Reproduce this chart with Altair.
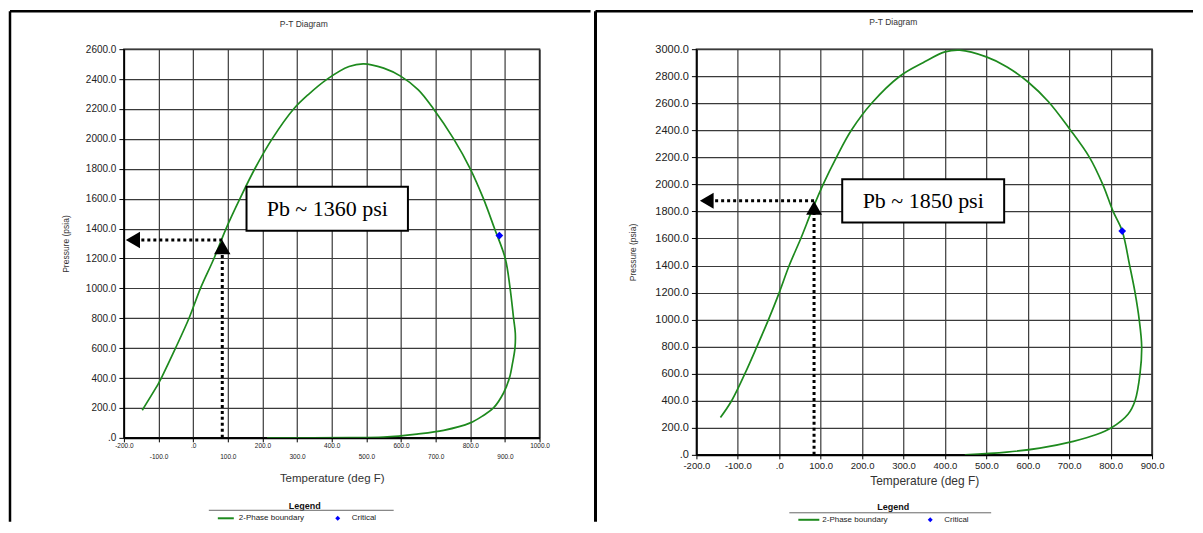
import altair as alt
import pandas as pd

# ---------------- data ----------------
left_T = [-147, -100, -92, -51, -12, 21, 60, 95, 135, 178, 228, 290, 334, 387, 450, 492,
          550, 600, 650, 694, 752, 800, 838, 870, 901, 915, 925, 930, 929, 922, 913,
          896, 867, 838, 800, 723, 646, 550, 450, 213]
left_P = [185, 364, 400, 600, 800, 1000, 1200, 1400, 1600, 1800, 2000, 2200, 2300, 2400, 2484, 2502,
          2473, 2418, 2328, 2200, 2000, 1800, 1600, 1400, 1200, 1000, 800, 700, 600, 500, 400,
          300, 200, 150, 100, 50, 25, 5, 1, 0]
left_crit = (884, 1353)
left_pb = (84, 1324)
left_label = "Pb ~ 1360 psi"
left_box_T = (154, 620)
left_box_P = (1385, 1680)

right_T = [-142, -115, -83, -54, -26, 0, 24, 52, 78, 106, 138, 174, 223, 291, 347, 400, 436,
           500, 550, 600, 650, 700, 749, 781, 806, 828, 846, 859, 869, 875, 871, 859, 842,
           802, 766, 710, 629, 549, 448]
right_P = [276, 400, 600, 800, 1000, 1200, 1400, 1600, 1800, 2000, 2200, 2400, 2600, 2800, 2900, 2980, 2993,
           2943, 2869, 2759, 2611, 2414, 2200, 2000, 1800, 1655, 1400, 1200, 1000, 800, 600, 400, 300,
           200, 150, 100, 50, 20, 0]
right_crit = (828, 1655)
right_pb = (84, 1879)
right_label = "Pb ~ 1850 psi"
right_box_T = (152, 543)
right_box_P = (1719, 2039)

chart_title = "P-T Diagram"
x_title = "Temperature (deg F)"
y_title = "Pressure (psia)"
legend_title = "Legend"
legend_items = ["2-Phase boundary", "Critical"]

GREEN = "#1e8a1e"
BLUE = "#0000ff"
one = pd.DataFrame({"k": [0]})


def panel(T, P, crit, pb, label, box_T, box_P, xmax, pmax, w, h, arrow_T, s):
    xs = alt.Scale(domain=[-200, xmax], nice=False, zero=False)
    ys = alt.Scale(domain=[0, pmax], nice=False, zero=False)
    lab = "(datum.value < 0 ? '-' : '') + (datum.value == 0 ? '.0' : format(abs(datum.value), '.1f'))"
    if s["stagger"]:
        lpad = {"condition": {"test": "abs(datum.value) % 200 != 0", "value": 12}, "value": 1}
    else:
        lpad = 2
    xaxis = alt.Axis(values=list(range(-200, xmax + 1, 100)), labelExpr=lab, labelFontSize=s["xl"],
                     labelPadding=lpad, labelOverlap=False, labelFlush=False, tickSize=4,
                     tickColor="#000", domainColor="#000", domainWidth=2, gridColor="#3a3a3a",
                     gridWidth=1.2, labelColor="#222", labelFont="Liberation Sans",
                     title=x_title, titleFont="Liberation Sans", titleFontWeight="normal",
                     titleFontSize=s["xt"], titleColor="#333", titlePadding=s["xtp"])
    yaxis = alt.Axis(values=list(range(0, pmax + 1, 200)), labelExpr=lab, labelFontSize=s["yl"],
                     labelPadding=3, tickSize=5, tickColor="#000", domainColor="#000", domainWidth=1.5,
                     gridColor="#3a3a3a", gridWidth=1.2, labelColor="#222", labelFont="Liberation Sans",
                     title=y_title, titleFont="Liberation Sans", titleFontWeight="normal",
                     titleFontSize=8.5, titleColor="#333", titlePadding=s["ytp"])
    X = lambda f="T": alt.X(f"{f}:Q", scale=xs, axis=xaxis)
    Y = lambda f="P": alt.Y(f"{f}:Q", scale=ys, axis=yaxis)

    curve_df = pd.DataFrame({"T": T, "P": P, "i": list(range(len(T)))})
    curve = alt.Chart(curve_df).mark_line(color=GREEN, strokeWidth=1.7, interpolate="catmull-rom",
                                          clip=True).encode(x=X(), y=Y(), order="i:Q")

    head_T = arrow_T
    head_P = pb[1] - s["headoff"]
    dots_df = pd.DataFrame({"seg": ["h", "h", "v", "v"], "o": [0, 1, 0, 1],
                            "T": [pb[0], head_T, pb[0], pb[0]],
                            "P": [pb[1], pb[1], 0, head_P]})
    dots = alt.Chart(dots_df).mark_line(color="#000", strokeWidth=3, strokeDash=[3, 3]).encode(
        x=X(), y=Y(), detail="seg:N", order="o:Q")
    heads_df = pd.DataFrame({"T": [head_T, pb[0]], "P": [pb[1], head_P], "d": ["l", "u"]})
    heads = alt.Chart(heads_df).mark_point(filled=True, color="#000", opacity=1, size=s["hs"]).encode(
        x=X(), y=Y(), shape=alt.Shape("d:N", scale=alt.Scale(domain=["l", "u"],
                                                             range=["triangle-left", "triangle-up"]),
                                      legend=None))
    box_df = pd.DataFrame({"T": [box_T[0]], "T2": [box_T[1]], "P": [box_P[0]], "P2": [box_P[1]],
                           "Tc": [(box_T[0] + box_T[1]) / 2], "Pc": [(box_P[0] + box_P[1]) / 2],
                           "lab": [label]})
    box = alt.Chart(box_df).mark_rect(fill="white", stroke="#000", strokeWidth=2).encode(
        x=X(), x2="T2:Q", y=Y(), y2="P2:Q")
    boxtext = alt.Chart(box_df).mark_text(font="Liberation Serif", fontSize=22, color="#000").encode(
        x=X("Tc"), y=Y("Pc"), text="lab:N")
    crit_df = pd.DataFrame({"T": [crit[0]], "P": [crit[1]]})
    critm = alt.Chart(crit_df).mark_point(shape="diamond", filled=True, color=BLUE, opacity=1,
                                          size=60).encode(x=X(), y=Y())

    deco = []
    deco.append(alt.Chart(one).mark_text(text=chart_title, font="Liberation Sans", fontSize=8.5,
                                         color="#333").encode(x=alt.value(s["tx"]), y=alt.value(s["ty"])))
    for (x1, x2, y1, y2, sw) in s["rules"]:
        deco.append(alt.Chart(one).mark_rule(color="#000", strokeWidth=sw).encode(
            x=alt.value(x1), x2=alt.value(x2), y=alt.value(y1), y2=alt.value(y2)))
    lg = s["lg"]
    deco.append(alt.Chart(one).mark_text(text=legend_title, font="Liberation Sans", fontSize=9,
                                         fontWeight="bold", color="#111").encode(
        x=alt.value(lg["cx"]), y=alt.value(lg["ty"])))
    deco.append(alt.Chart(one).mark_rule(color="#666", strokeWidth=1).encode(
        x=alt.value(lg["u0"]), x2=alt.value(lg["u1"]), y=alt.value(lg["uy"])))
    deco.append(alt.Chart(one).mark_rule(color=GREEN, strokeWidth=2).encode(
        x=alt.value(lg["l0"]), x2=alt.value(lg["l1"]), y=alt.value(lg["iy"])))
    deco.append(alt.Chart(one).mark_text(text=legend_items[0], font="Liberation Sans", fontSize=8,
                                         align="left", color="#222").encode(
        x=alt.value(lg["t0"]), y=alt.value(lg["iy"])))
    deco.append(alt.Chart(one).mark_point(shape="diamond", filled=True, color=BLUE, opacity=1,
                                          size=25).encode(x=alt.value(lg["dx"]), y=alt.value(lg["iy"])))
    deco.append(alt.Chart(one).mark_text(text=legend_items[1], font="Liberation Sans", fontSize=8,
                                         align="left", color="#222").encode(
        x=alt.value(lg["t1"]), y=alt.value(lg["iy"])))

    return alt.layer(curve, dots, heads, box, boxtext, critm, *deco).properties(width=w, height=h)


left_style = {
    "stagger": True, "xl": 6.5, "yl": 10, "xt": 11.5, "xtp": 12, "ytp": 15,
    "headoff": 48, "hs": 270,
    "tx": 180, "ty": -25,
    "rules": [(-114, 467, -38, -38, 2.5), (-114, -114, -38, 473, 2.5)],
    "lg": {"cx": 181, "ty": 457, "u0": 85, "u1": 270, "uy": 461.5, "l0": 94, "l1": 110,
           "iy": 469.5, "t0": 115, "dx": 214, "t1": 228},
}
right_style = {
    "stagger": False, "xl": 9.5, "yl": 11, "xt": 12, "xtp": 5, "ytp": 17,
    "headoff": 53, "hs": 250,
    "tx": 197, "ty": -27,
    "rules": [(-101, 497, -38, -38, 2.5), (-101, -101, -38, 473, 3)],
    "lg": {"cx": 197, "ty": 458, "u0": 93, "u1": 295, "uy": 464, "l0": 102, "l1": 123,
           "iy": 471, "t0": 126, "dx": 234, "t1": 248},
}

left = panel(left_T, left_P, left_crit, left_pb, left_label, left_box_T, left_box_P,
             1000, 2600, 416, 389, -174, left_style)
right = panel(right_T, right_P, right_crit, right_pb, right_label, right_box_T, right_box_P,
              900, 3000, 456, 406, -175, right_style)

chart = alt.hconcat(left, right, spacing=0).properties(padding=0, background="white").configure_view(
    stroke="#111", strokeWidth=1.5)

chart.save("out.html", embed_options={"renderer": "svg", "actions": False})
